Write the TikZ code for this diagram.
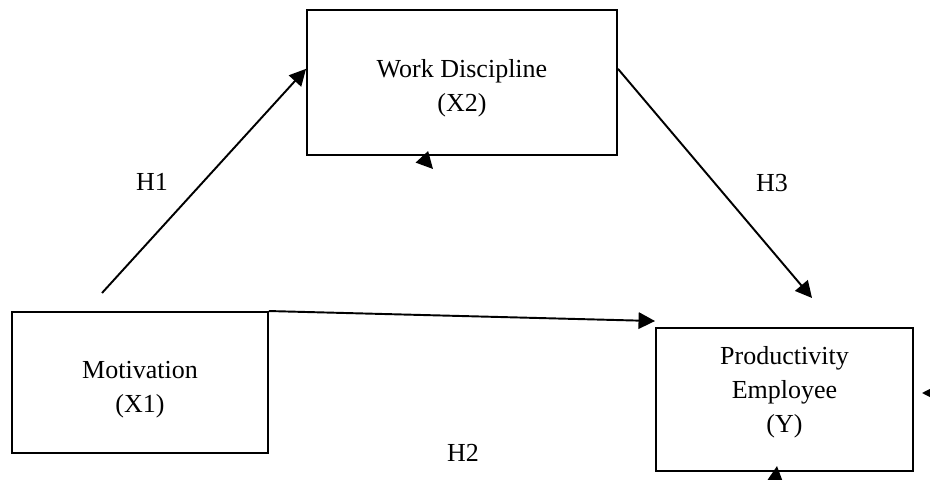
\documentclass[tikz,border=0pt]{standalone}
\usepackage{fontspec}
\setmainfont{Liberation Serif}
\usetikzlibrary{arrows.meta}

\begin{document}
\begin{tikzpicture}[every text node part/.style={align=center},
	var/.style={draw,line width=1.1pt,minimum width=6.2cm,minimum height=2.9cm},
	link/.style={line width=1.1pt,-{Triangle[length=0.33cm,width=0.33cm]}},
	lab/.style={font=\fontsize{14.8}{19.3}\selectfont}]
		\useasboundingbox (0,0) rectangle (18.6,9.58);
		%variables
		\node[var] (disc) at (9.24,7.93) {};
		\node[var,minimum width=5.12cm,minimum height=2.82cm] (motiv) at (2.8,1.93) {};
		\node[var,minimum width=5.14cm,minimum height=2.86cm] (prod) at (15.69,1.59) {};
		\node[lab] (disctext) at ([yshift=-0.11cm]disc.center) {Work Discipline\\(X2)};
		\node[lab] (motivtext) at ([yshift=-0.14cm]motiv.center) {Motivation\\(X1)};
		\node[lab] (prodtext) at ([yshift=0.14cm]prod.center) {Productivity\\Employee\\(Y)};
		
		%hypotheses
		\coordinate (h1) at (2.04,3.72);
		\coordinate (h3) at (16.24,3.62);
		\draw[link] (h1) -- (disc.175);
		\draw[link] (disc.5) -- (h3);
		\draw[link] (motiv.north east) -- ([yshift=0.12cm]prod.north west);
		\node[lab] (H1) at (3.04,5.94) {H1};
		\node[lab] (H3) at (15.44,5.92) {H3};
		\node[lab] (H2) at (9.26,0.52) {H2};
		
		%loose tips
		\coordinate (t1) at (8.66,6.2);
		\coordinate (t2) at (18.44,1.72);
		\coordinate (t3) at (15.54,0.26);
		\draw[link] ([shift={(-0.22,0.24)}]t1) -- (t1);
		\draw[link] ([xshift=0.33cm]t2) -- (t2);
		\draw[link] ([shift={(-0.04,-0.33)}]t3) -- (t3);
		
\end{tikzpicture}
\end{document}
